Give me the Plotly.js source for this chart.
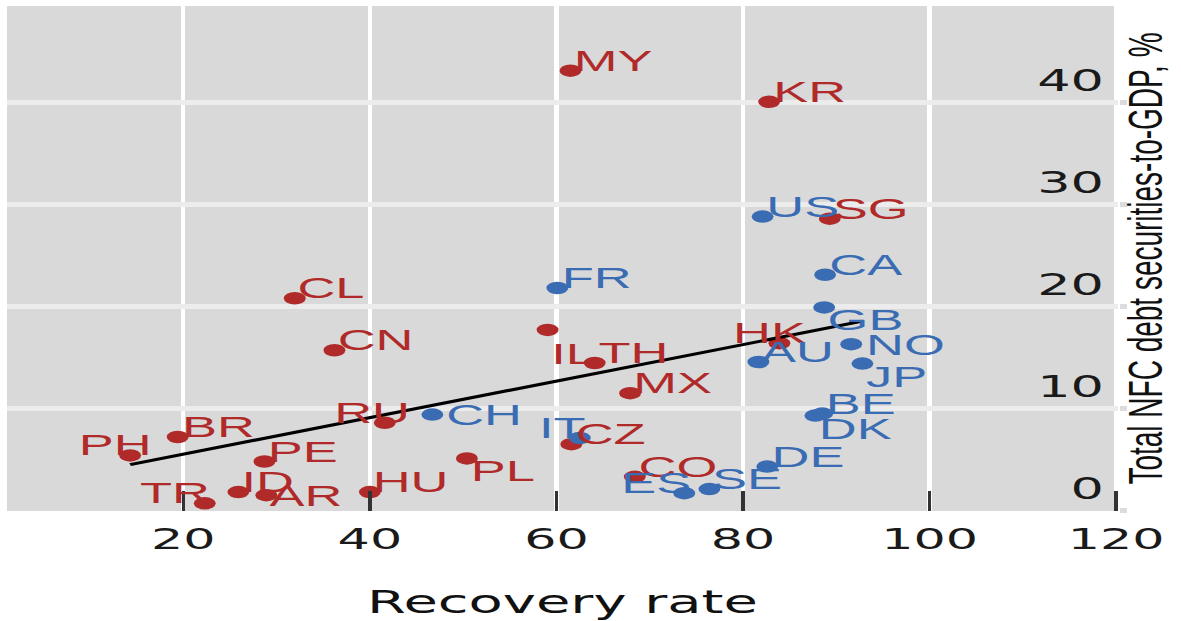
<!DOCTYPE html>
<html><head><meta charset="utf-8">
<script src="https://cdn.plot.ly/plotly-3.0.1.min.js"></script>
<style>
html,body{margin:0;padding:0;background:#fff;overflow:hidden}
#wrap{width:1181px;height:621px;overflow:hidden;position:relative}
#chart{width:675px;height:621px;transform:scaleX(1.74963);transform-origin:0 0}
</style></head><body>
<div id="wrap"><div id="chart"></div></div>
<script>
// Emerging economies (red)
const emLabels = ["MY","KR","SG","CL","CN","IL","TH","HK","MX","RU","CZ","PL","CO","HU","BR","PH","PE","ID","AR","TR"];
const emX = [61.5, 82.8, 89.3, 31.95, 36.2, 59.05, 64.1, 83.9, 67.9, 41.6, 61.6, 50.4, 68.4, 40.0, 19.4, 14.3, 28.7, 25.9, 28.9, 22.3];
const emY = [43.1, 40.05, 28.6, 20.8, 15.7, 17.7, 14.45, 16.4, 11.5, 8.6, 6.5, 5.1, 3.3, 1.8, 7.2, 5.4, 4.8, 1.8, 1.5, 0.7];
// Advanced economies (blue)
const aeLabels = ["US","CA","FR","GB","NO","AU","JP","BE","DK","CH","IT","DE","SE","ES"];
const aeX = [82.1, 88.8, 60.1, 88.7, 91.6, 81.65, 92.8, 88.5, 87.76, 46.7, 62.5, 82.6, 76.4, 73.7];
const aeY = [28.8, 23.1, 21.8, 19.9, 16.3, 14.55, 14.4, 9.5, 9.3, 9.4, 7.1, 4.3, 2.1, 1.7];
// Fitted line
const fitX = [14.3, 92.8];
const fitY = [4.5, 18.55];
// Axis ticks
const xTicks = [20, 40, 60, 80, 100, 120];
const yTicks = [0, 10, 20, 30, 40];
const xTitle = "Recovery rate";
const yTitle = "Total NFC debt securities-to-GDP, %";

// Label placement (style): v: b=above point, t=below point, m=middle ; h: l=text to right, r=text to left, c=centred
const emPlace = ["bl","bl","bl","bl","bl","tl","bl","bc","bl","bc","bl","tl","bl","bl","bl","bc","bl","bl","ml","br"];
const aePlace = ["bl","bl","bl","tl","ml","bl","tl","bl","tl","ml","br","bl","bl","br"];
const nudge = {IL:[0,11], RU:[-13,0], HK:[-10,0], PH:[-14,0], TR:[8,0], IT:[10,0], NO:[11,0], CH:[10,0], ES:[10,0]};

const K = 1181/675;
const RED = '#B02A2A', BLUE = '#3A6CB3';
const LABEL_FONT = '"Liberation Sans", Arial, sans-serif';
const TICK_FONT = '"DejaVu Sans", sans-serif';

function makeAnn(labels, xs, ys, places, color){
  return labels.map((t,i)=>{
    const p = places[i];
    const v = p[0], h = p[1];
    const n = nudge[t] || [0,0];
    let ys0 = v==='b' ? -8 : (v==='t' ? 6 : 0);
    return {
      x: xs[i], y: ys[i], xref:'x', yref:'y', text: t, showarrow:false,
      xanchor: h==='l' ? 'left' : (h==='r' ? 'right' : 'center'),
      yanchor: v==='b' ? 'bottom' : (v==='t' ? 'top' : 'middle'),
      xshift: n[0]/K, yshift: ys0 - n[1],
      font:{family:LABEL_FONT, size:30, color:color}
    };
  });
}

const traces = [
  {x: emX, y: emY, type:'scatter', mode:'markers', marker:{color:RED, size:12.5}, hoverinfo:'skip', cliponaxis:false},
  {x: aeX, y: aeY, type:'scatter', mode:'markers', marker:{color:BLUE, size:12.5}, hoverinfo:'skip', cliponaxis:false},
  {x: fitX, y: fitY, type:'scatter', mode:'lines', line:{color:'#000', width:3}, hoverinfo:'skip'}
];

const layout = {
  width: 675, height: 621,
  margin: {l:4, r:35.5, t:6, b:110},
  paper_bgcolor:'#ffffff', plot_bgcolor:'#D9D9D9',
  showlegend:false, hovermode:false,
  xaxis: {
    range:[1.1, 120.2], tickvals:xTicks, ticktext:xTicks.map(String),
    ticks:'inside', ticklen:20, tickwidth:2, tickcolor:'#333',
    showgrid:true, gridcolor:'#FFFFFF', gridwidth:2.5, zeroline:false, showline:false,
    tickfont:{family:TICK_FONT, size:29, color:'#1a1a1a'}, ticklabelstandoff:8,
    ticklabeloverflow:'allow',
    title:{text:xTitle, font:{family:TICK_FONT, size:32, color:'#111'}, standoff:36}
  },
  yaxis: {
    side:'right', range:[-0.05, 49.44], tickvals:yTicks, ticktext:yTicks.map(String),
    ticks:'outside', ticklen:4, tickwidth:5, tickcolor:'#dcdcdc',
    ticklabelposition:'inside', ticklabelshift:-22, ticklabelstandoff:5,
    ticklabeloverflow:'allow',
    tickfont:{family:TICK_FONT, size:30, color:'#1a1a1a'},
    showgrid:true, gridcolor:'#ECECEC', gridwidth:5, zeroline:false, showline:false,
    title:{text:yTitle, font:{family:LABEL_FONT, size:28, color:'#111'}, standoff:14}
  },
  annotations: makeAnn(emLabels, emX, emY, emPlace, RED).concat(makeAnn(aeLabels, aeX, aeY, aePlace, BLUE))
};

Plotly.newPlot('chart', traces, layout, {staticPlot:true, displayModeBar:false});
</script>
</body></html>
